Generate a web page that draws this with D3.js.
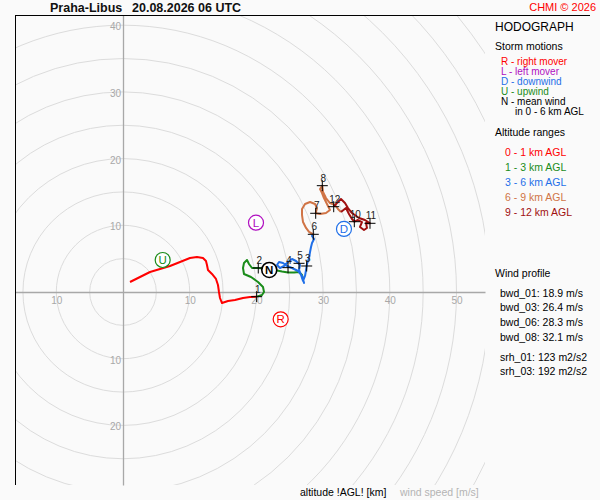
<!DOCTYPE html>
<html>
<head>
<meta charset="utf-8">
<script src="https://cdn.jsdelivr.net/npm/d3@7"></script>
<style>
  body { margin: 0; background: #fafafa; }
  svg { display: block; font-family: "Liberation Sans", Arial, sans-serif; }
</style>
</head>
<body>
<svg id="chart" width="600" height="500"></svg>
<script>
// wind components [u, v] in m/s
const trace01 = [
  [1.05, 1.50], [2.55, 2.25], [4.05, 3.00], [5.55, 3.45], [7.05, 3.90], [8.55, 4.50],
  [10.04, 5.10], [11.09, 5.25], [11.99, 5.10], [12.44, 4.65], [12.59, 4.05], [12.74, 3.30],
  [13.34, 2.70], [13.94, 1.95], [14.24, 1.05], [14.39, 0], [14.54, -0.90], [14.84, -1.65],
  [15.74, -1.35], [16.79, -1.20], [17.99, -0.90], [19.04, -0.75], [20.04, -0.70]
];
const trace13 = [
  [20.04, -0.70], [20.84, -0.45], [21.14, 0], [20.99, 0.75], [20.24, 1.50], [19.19, 2.25],
  [18.14, 2.70], [17.99, 3.60], [18.14, 4.35], [18.59, 4.80], [18.89, 4.20], [19.34, 3.60],
  [20.28, 3.60], [21.14, 3.52], [22.04, 3.37], [23.09, 3.22], [23.84, 3.07], [24.74, 2.92],
  [25.64, 2.92], [26.39, 3.00], [26.84, 2.55], [26.99, 1.95]
];
const trace36 = [
  [26.99, 1.95], [27.14, 1.35], [26.84, 2.40], [26.24, 3.15], [25.34, 3.60], [24.59, 3.90],
  [23.99, 4.35], [23.39, 4.50], [23.09, 4.05], [23.54, 3.60], [24.14, 3.90], [24.74, 4.50],
  [25.34, 4.95], [25.94, 4.65], [26.54, 4.05], [26.39, 3.30], [26.69, 2.55], [26.99, 1.65],
  [27.29, 2.40], [27.44, 3.30], [27.59, 4.20], [27.89, 5.10], [28.04, 6.00], [28.19, 6.75],
  [28.34, 7.35], [28.64, 7.95], [28.34, 8.40], [28.53, 8.65]
];
const trace69 = [
  [28.53, 8.65], [27.89, 9.00], [27.44, 9.60], [26.99, 10.49], [26.84, 11.54], [26.84, 12.44],
  [27.29, 13.19], [28.04, 13.49], [28.79, 13.19], [29.09, 12.59], [28.89, 11.80], [29.54, 11.69],
  [30.43, 11.84], [31.03, 12.29], [30.58, 13.19], [30.13, 14.09], [29.84, 14.84], [29.54, 15.44],
  [29.88, 15.94], [29.99, 14.99], [30.43, 14.09], [31.03, 13.34], [31.78, 13.04], [32.23, 12.44],
  [32.68, 11.99]
];
const trace912 = [
  [32.68, 11.99], [33.43, 12.59], [33.88, 11.69], [34.33, 10.94], [34.68, 10.54], [35.23, 10.79],
  [35.83, 10.49], [35.53, 9.75], [36.13, 9.30], [36.58, 9.60], [36.43, 10.34], [37.03, 10.30],
  [36.28, 10.79], [35.38, 11.09], [34.33, 11.84], [33.73, 12.59], [33.28, 13.34], [32.68, 13.94],
  [32.08, 13.34], [31.59, 12.79]
];

// altitude marks: [km, u, v]
const kmMarks = [
  [1, 20.04, -0.70], [2, 20.28, 3.60], [3, 27.54, 3.90], [4, 24.74, 3.65], [5, 26.39, 4.30],
  [6, 28.53, 8.65], [7, 28.89, 11.80], [8, 29.88, 15.94], [10, 34.68, 10.54],
  [11, 37.03, 10.30], [12, 31.59, 12.79]
];

// storm motions: [letter, u, v]
const stormMotions = [
  ['U', 5.95, 4.80], ['L', 19.94, 10.39], ['D', 33.13, 9.45], ['R', 23.64, -4.09], ['N', 21.93, 3.30]
];

const ringSpeeds = [5, 10, 15, 20, 25, 30, 35, 40, 45, 50, 55, 60, 65, 70];
const uTicks = [-10, 10, 20, 30, 40, 50];
const vTicks = [-20, -10, 10, 20, 30, 40];

const stormLegend = ['R - right mover', 'L - left mover', 'D - downwind', 'U - upwind', 'N - mean wind'];
const layerLegend = ['0 - 1 km AGL', '1 - 3 km AGL', '3 - 6 km AGL', '6 - 9 km AGL', '9 - 12 km AGL'];
const windProfile = ['bwd_01: 18.9 m/s', 'bwd_03: 26.4 m/s', 'bwd_06: 28.3 m/s', 'bwd_08: 32.1 m/s'];
const helicity = ['srh_01: 123 m2/s2', 'srh_03: 192 m2/s2'];

// styles
const layerColors = ['#ff0000', '#1a8c1a', '#1f6fe8', '#d07446', '#a01010'];
const motionColors = { R: '#ff0000', L: '#b010c0', D: '#1f6fe8', U: '#1a8c1a', N: '#000000' };

const svg = d3.select('#chart');
const plot = { left: 15, top: 15, right: 485, bottom: 485 };
const ox = 123, oy = 292, k = 6.67; // origin and px per m/s

const x = d3.scaleLinear()
  .domain([(plot.left - ox) / k, (plot.right - ox) / k])
  .range([plot.left, plot.right]);
const y = d3.scaleLinear()
  .domain([(oy - plot.bottom) / k, (oy - plot.top) / k])
  .range([plot.bottom, plot.top]);

svg.append('defs').append('clipPath').attr('id', 'clip')
  .append('rect')
  .attr('x', plot.left).attr('y', plot.top)
  .attr('width', plot.right - plot.left).attr('height', plot.bottom - plot.top);

// speed rings
svg.append('g').attr('clip-path', 'url(#clip)')
  .selectAll('circle')
  .data(ringSpeeds)
  .join('circle')
  .attr('cx', x(0)).attr('cy', y(0))
  .attr('r', d => x(d) - x(0))
  .attr('fill', 'none')
  .attr('stroke', '#dcdcdc')
  .attr('stroke-width', 1);

// axes through the origin
const xAxis = svg.append('g')
  .attr('transform', `translate(0,${y(0)})`)
  .call(d3.axisBottom(x).tickValues(uTicks).tickSize(0).tickPadding(5).tickFormat(d => Math.abs(d)));
const yAxis = svg.append('g')
  .attr('transform', `translate(${x(0)},0)`)
  .call(d3.axisLeft(y).tickValues(vTicks).tickSize(0).tickPadding(2).tickFormat(d => Math.abs(d)));
[xAxis, yAxis].forEach(a => {
  a.select('.domain').attr('stroke', '#a8a8a8').attr('stroke-width', 1.3);
  a.selectAll('text').attr('fill', '#a8a8a8').attr('font-size', 10)
    .attr('font-family', '"Liberation Sans", Arial, sans-serif');
});
yAxis.selectAll('text').attr('dy', '0.45em');

// frame
svg.append('line').attr('x1', plot.left).attr('x2', 590).attr('y1', 15.5).attr('y2', 15.5)
  .attr('stroke', '#000');
svg.append('line').attr('x1', 15.5).attr('x2', 15.5).attr('y1', plot.top).attr('y2', plot.bottom)
  .attr('stroke', '#000');

// hodograph trace
const line = d3.line().x(d => x(d[0])).y(d => y(d[1]));
const traces = [trace01, trace13, trace36, trace69, trace912];
svg.append('g')
  .selectAll('path')
  .data(traces)
  .join('path')
  .attr('d', line)
  .attr('fill', 'none')
  .attr('stroke', (d, i) => layerColors[i])
  .attr('stroke-width', 2)
  .attr('stroke-linejoin', 'round');

// altitude marks
const marks = svg.append('g')
  .selectAll('g')
  .data(kmMarks)
  .join('g')
  .attr('transform', d => `translate(${x(d[1])},${y(d[2])})`);
marks.append('path')
  .attr('d', 'M-5.5,0H5.5M0,-5.5V5.5')
  .attr('stroke', '#000')
  .attr('stroke-width', 1);
marks.append('text')
  .attr('x', 1).attr('y', -4)
  .attr('text-anchor', 'middle')
  .attr('font-size', 10)
  .attr('fill', '#222')
  .text(d => d[0]);

// storm motions
const sm = svg.append('g')
  .selectAll('g')
  .data(stormMotions)
  .join('g')
  .attr('transform', d => `translate(${x(d[1])},${y(d[2])})`);
sm.append('circle')
  .attr('r', 7.5)
  .attr('fill', '#fff')
  .attr('stroke', d => motionColors[d[0]])
  .attr('stroke-width', d => d[0] === 'N' ? 1.6 : 1.2);
sm.append('text')
  .attr('text-anchor', 'middle')
  .attr('y', 4)
  .attr('font-size', 11.5)
  .attr('font-weight', d => d[0] === 'N' ? 'bold' : 'normal')
  .attr('fill', d => motionColors[d[0]])
  .text(d => d[0]);

// title
svg.append('text').attr('x', 50).attr('y', 12).attr('font-size', 12.5).attr('font-weight', 'bold')
  .attr('fill', '#111').text('Praha-Libus');
svg.append('text').attr('x', 132).attr('y', 12).attr('font-size', 12.5).attr('font-weight', 'bold')
  .attr('fill', '#111').text('20.08.2026 06 UTC');
svg.append('text').attr('x', 596).attr('y', 11).attr('text-anchor', 'end').attr('font-size', 11)
  .attr('fill', '#ff0000').text('CHMI © 2026');

// right panel
const panel = svg.append('g').attr('font-size', 10.5);
panel.append('text').attr('x', 495).attr('y', 31).attr('font-size', 12).attr('fill', '#000').text('HODOGRAPH');
panel.append('text').attr('x', 495).attr('y', 50).attr('fill', '#000').text('Storm motions');
panel.selectAll('.sm')
  .data(stormLegend)
  .join('text')
  .attr('x', 501)
  .attr('y', (d, i) => 65 + i * 10)
  .attr('font-size', 10)
  .attr('fill', d => motionColors[d[0]])
  .text(d => d);
panel.append('text').attr('x', 515).attr('y', 115).attr('font-size', 10).attr('fill', '#000').text('in 0 - 6 km AGL');
panel.append('text').attr('x', 495).attr('y', 135.5).attr('fill', '#000').text('Altitude ranges');
panel.selectAll('.layer')
  .data(layerLegend)
  .join('text')
  .attr('x', 505)
  .attr('y', (d, i) => 155.5 + i * 15)
  .attr('fill', (d, i) => layerColors[i])
  .text(d => d);
panel.append('text').attr('x', 495).attr('y', 276.5).attr('fill', '#000').text('Wind profile');
panel.selectAll('.bwd')
  .data(windProfile)
  .join('text')
  .attr('x', 500)
  .attr('y', (d, i) => 296.5 + i * 14.7)
  .attr('fill', '#000')
  .text(d => d);
panel.selectAll('.srh')
  .data(helicity)
  .join('text')
  .attr('x', 500)
  .attr('y', (d, i) => 360.5 + i * 14.5)
  .attr('fill', '#000')
  .text(d => d);

// bottom captions
svg.append('text').attr('x', 300).attr('y', 496).attr('font-size', 10.5).attr('fill', '#000')
  .text('altitude !AGL! [km]');
svg.append('text').attr('x', 400).attr('y', 496).attr('font-size', 10.5).attr('fill', '#b4b4b4')
  .text('wind speed [m/s]');
</script>
</body>
</html>
